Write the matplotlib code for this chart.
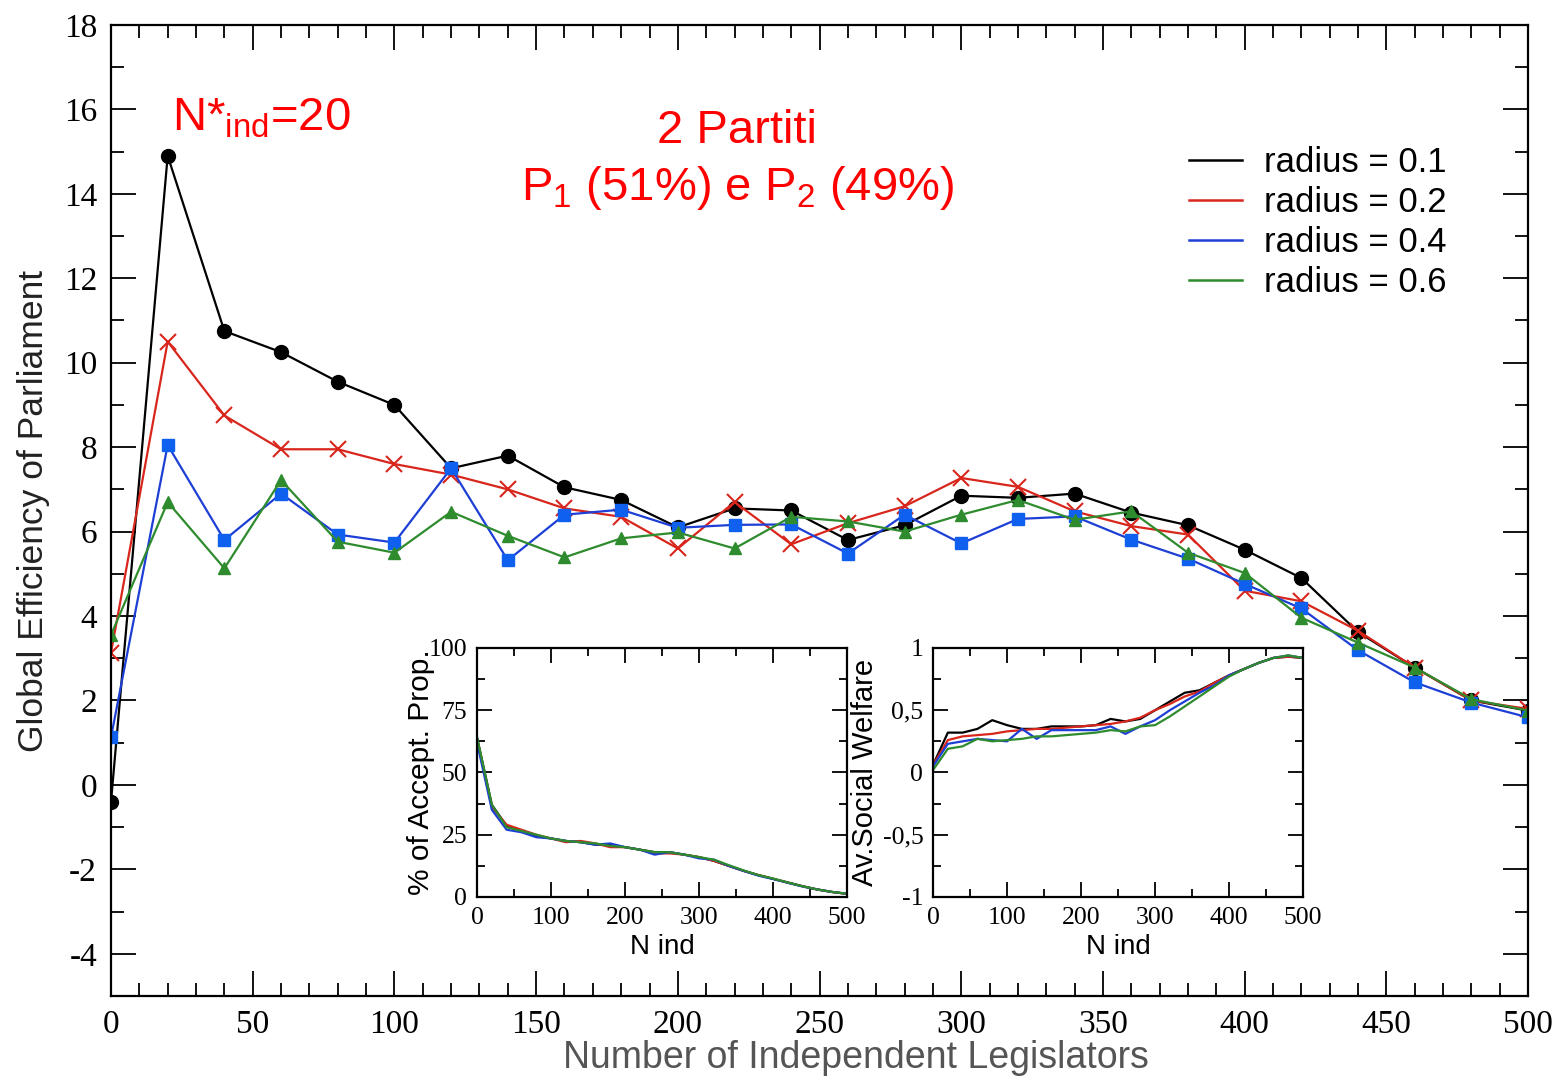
import matplotlib
matplotlib.use("Agg")
import matplotlib.pyplot as plt
from matplotlib.ticker import MultipleLocator, FixedLocator, FixedFormatter
from matplotlib.lines import Line2D

plt.rcParams['mathtext.fontset'] = 'custom'
plt.rcParams['mathtext.rm'] = 'Liberation Sans'
plt.rcParams['mathtext.it'] = 'Liberation Sans:italic'
plt.rcParams['mathtext.default'] = 'regular'
plt.rcParams['axes.unicode_minus'] = False

SANS = 'Liberation Sans'
SERIF = 'Liberation Serif'

# ---- main chart data (N independent legislators = 0, 20, ..., 500)
n_ind = list(range(0, 501, 20))
eff_r01 = [-0.4, 14.9, 10.75, 10.25, 9.55, 9.0, 7.5, 7.8, 7.05, 6.75, 6.1, 6.55, 6.5,
           5.8, 6.15, 6.85, 6.8, 6.9, 6.45, 6.15, 5.57, 4.9, 3.62, 2.78, 2.0, 1.76]
eff_r02 = [3.13, 10.5, 8.75, 7.95, 7.95, 7.6, 7.35, 7.0, 6.55, 6.35, 5.6, 6.7, 5.7,
           6.2, 6.6, 7.27, 7.06, 6.48, 6.13, 5.93, 4.6, 4.35, 3.65, 2.78, 2.0, 1.8]
eff_r04 = [1.13, 8.05, 5.8, 6.9, 5.93, 5.74, 7.5, 5.32, 6.4, 6.52, 6.09, 6.16, 6.17,
           5.48, 6.4, 5.72, 6.3, 6.36, 5.81, 5.36, 4.76, 4.18, 3.19, 2.43, 1.95, 1.6]
eff_r06 = [3.55, 6.7, 5.13, 7.22, 5.76, 5.5, 6.47, 5.9, 5.39, 5.84, 5.98, 5.6, 6.35,
           6.24, 6.0, 6.4, 6.75, 6.28, 6.48, 5.5, 5.02, 3.96, 3.37, 2.78, 2.03, 1.76]

# ---- inset 1: % of accepted proposals
acc_r01 = [64, 37, 28.5, 26.5, 24.5, 23.5, 22.5, 22, 21, 21, 20, 19, 18,
           18, 17, 16, 14.5, 12.5, 10.5, 8.8, 7.3, 5.8, 4.3, 3.0, 2.0, 1.3]
acc_r02 = [63, 36, 29, 27, 25, 23.5, 22, 22.5, 21.5, 20, 20, 19, 17.5,
           17.5, 17, 16, 14.5, 12.5, 10.5, 8.8, 7.3, 5.8, 4.3, 3.0, 2.0, 1.2]
acc_r04 = [62, 35, 27, 26, 24, 23.5, 22.5, 22, 21, 21.5, 20, 19, 17,
           18, 17, 15.5, 15, 12.5, 10.5, 8.6, 7.2, 5.7, 4.2, 3.0, 2.0, 1.3]
acc_r06 = [64, 37, 28, 26.5, 25, 23.5, 22.5, 22, 21.5, 20.5, 20, 19, 18,
           18, 17, 16, 15, 12.8, 10.7, 8.8, 7.4, 5.8, 4.3, 3.0, 2.0, 1.3]

# ---- inset 2: average social welfare
wel_r01 = [0.06, 0.32, 0.32, 0.35, 0.42, 0.38, 0.35, 0.35, 0.37, 0.37, 0.37, 0.38, 0.43,
           0.41, 0.43, 0.50, 0.57, 0.64, 0.66, 0.72, 0.78, 0.83, 0.88, 0.92, 0.93, 0.92]
wel_r02 = [0.06, 0.26, 0.29, 0.30, 0.31, 0.33, 0.34, 0.35, 0.35, 0.36, 0.37, 0.38, 0.39,
           0.41, 0.44, 0.50, 0.55, 0.61, 0.65, 0.72, 0.78, 0.83, 0.88, 0.92, 0.93, 0.92]
wel_r04 = [0.05, 0.23, 0.25, 0.27, 0.26, 0.25, 0.35, 0.27, 0.34, 0.34, 0.34, 0.34, 0.37,
           0.31, 0.37, 0.42, 0.50, 0.57, 0.64, 0.70, 0.78, 0.83, 0.88, 0.92, 0.94, 0.92]
wel_r06 = [0.02, 0.19, 0.21, 0.27, 0.25, 0.26, 0.27, 0.29, 0.29, 0.30, 0.31, 0.32, 0.34,
           0.33, 0.37, 0.38, 0.45, 0.53, 0.61, 0.69, 0.77, 0.83, 0.88, 0.92, 0.94, 0.92]

radius_labels = ['radius = 0.1', 'radius = 0.2', 'radius = 0.4', 'radius = 0.6']
colors = ['black', '#d8261c', '#1d3fd6', '#2e8b2e']
mfcs = ['black', '#d8261c', '#1060f0', '#2e8b2e']
markers = ['o', 'x', 's', '^']
msizes = [10, 12, 8, 9]


def style_ticks(ax, size, maj, mnr, pad):
    ax.tick_params(which='both', direction='in', top=True, right=True, width=1.3,
                   labelsize=size, pad=pad)
    ax.tick_params(which='major', length=maj)
    ax.tick_params(which='minor', length=mnr)
    for lab in ax.get_xticklabels() + ax.get_yticklabels():
        lab.set_fontfamily(SERIF)
    for s in ax.spines.values():
        s.set_linewidth(1.6)


fig = plt.figure(figsize=(15.59, 10.85), dpi=100)
ax = fig.add_axes([0.0712, 0.082, 0.909, 0.895])

effs = [eff_r01, eff_r02, eff_r04, eff_r06]
for ys, c, mf, m, ms in zip(effs, colors, mfcs, markers, msizes):
    ax.plot(n_ind, ys, color=c, lw=1.6, marker=m, ms=ms, mfc=mf, mec=mf,
            mew=1.5 if m == 'x' else 1.0)

ax.set_xlim(0, 500)
ax.set_ylim(-5, 18)
ax.xaxis.set_major_locator(MultipleLocator(50))
ax.xaxis.set_minor_locator(MultipleLocator(10))
ax.yaxis.set_major_locator(FixedLocator([-4, -2, 0, 2, 4, 6, 8, 10, 12, 14, 16, 18]))
ax.yaxis.set_minor_locator(MultipleLocator(1))
style_ticks(ax, 24, 18, 9.5, 10)

ax.set_ylabel('Global Efficiency of Parliament', fontsize=25.5, family=SANS, color='#222222')
ax.yaxis.set_label_coords(-0.043, 0.5)
ax.set_xlabel('Number of Independent Legislators', fontsize=27, family=SANS, color='#555555')
ax.xaxis.set_label_coords(0.526, -0.045)

# annotations
ax.text(21.5, 15.5, r'N*$_{ind}$=20', color='red', fontsize=34, family=SANS,
        ha='left', va='baseline')
ax.text(221, 15.2, '2 Partiti', color='red', fontsize=34, family=SANS,
        ha='center', va='baseline')
ax.text(221, 13.86, r'P$_1$ (51%) e P$_2$ (49%)', color='red', fontsize=34,
        family=SANS, ha='center', va='baseline')

handles = [Line2D([0], [0], color=c, lw=1.8) for c in colors]
ax.legend(handles, radius_labels, loc='upper left', bbox_to_anchor=(0.761, 0.875),
          frameon=False, prop={'family': SANS, 'size': 25}, handlelength=1.5,
          handletextpad=0.66, labelspacing=0.2, borderpad=0, borderaxespad=0)

# inset 1
ax1 = fig.add_axes([0.306, 0.1733, 0.2373, 0.2295])
for ys, c in zip([acc_r01, acc_r02, acc_r04, acc_r06], colors):
    ax1.plot(n_ind, ys, color=c, lw=1.6)
ax1.set_xlim(0, 500)
ax1.set_ylim(0, 100)
ax1.xaxis.set_major_locator(MultipleLocator(100))
ax1.xaxis.set_minor_locator(MultipleLocator(50))
ax1.yaxis.set_major_locator(MultipleLocator(25))
ax1.yaxis.set_minor_locator(MultipleLocator(12.5))
style_ticks(ax1, 18.5, 11, 6, 7)
ax1.set_ylabel('% of Accept. Prop.', fontsize=21.5, family=SANS)
ax1.yaxis.set_label_coords(-0.115, 0.5)
ax1.set_xlabel('N ind', fontsize=20, family=SANS)
ax1.xaxis.set_label_coords(0.5, -0.15)

# inset 2
ax2 = fig.add_axes([0.5985, 0.1733, 0.2373, 0.2295])
for ys, c in zip([wel_r01, wel_r02, wel_r04, wel_r06], colors):
    ax2.plot(n_ind, ys, color=c, lw=1.6)
ax2.set_xlim(0, 500)
ax2.set_ylim(-1, 1)
ax2.xaxis.set_major_locator(MultipleLocator(100))
ax2.xaxis.set_minor_locator(MultipleLocator(50))
ax2.yaxis.set_major_locator(FixedLocator([-1, -0.5, 0, 0.5, 1]))
ax2.yaxis.set_major_formatter(FixedFormatter(['-1', '-0,5', '0', '0,5', '1']))
ax2.yaxis.set_minor_locator(MultipleLocator(0.25))
style_ticks(ax2, 18.5, 11, 6, 7)
ax2.set_ylabel('Av.Social Welfare', fontsize=21, family=SANS)
ax2.yaxis.set_label_coords(-0.145, 0.5)
ax2.set_xlabel('N ind', fontsize=20, family=SANS)
ax2.xaxis.set_label_coords(0.5, -0.15)

fig.savefig('out.png', dpi=100)
